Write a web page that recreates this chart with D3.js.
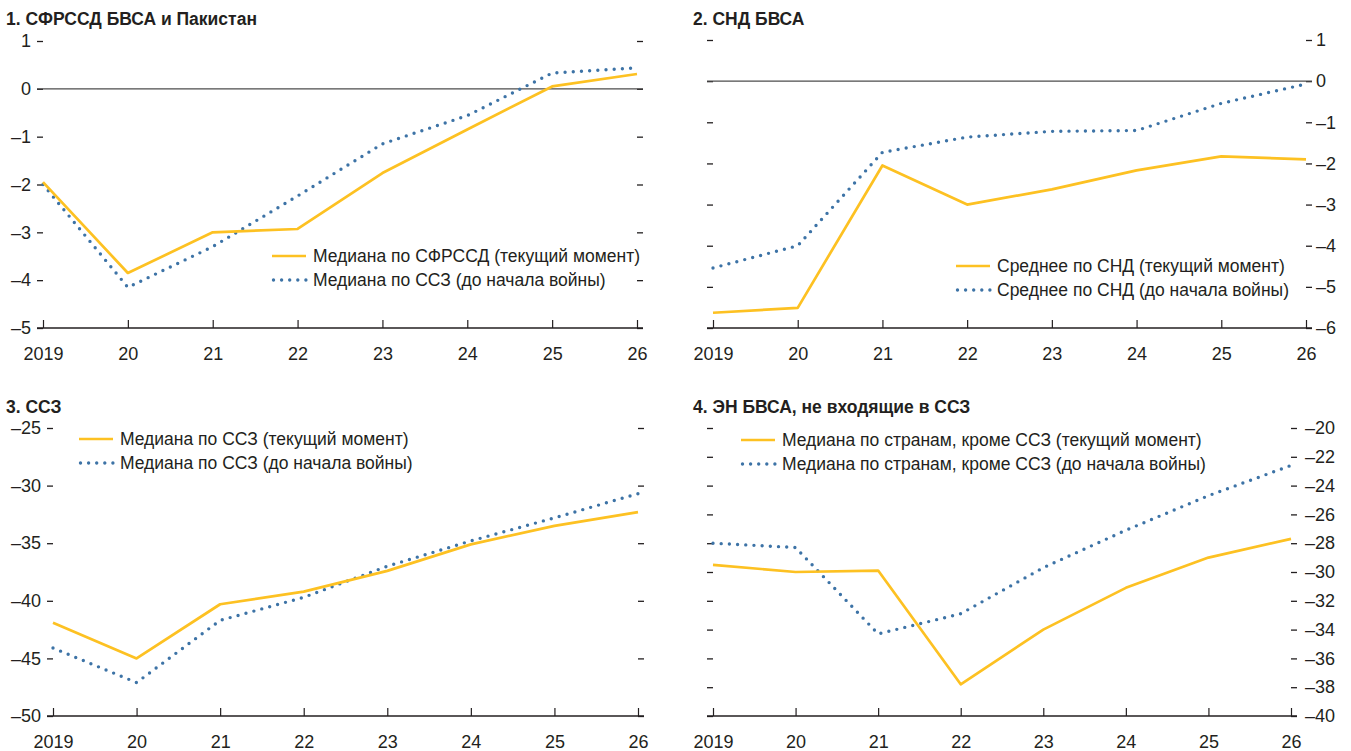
<!DOCTYPE html>
<html>
<head>
<meta charset="utf-8">
<script src="https://cdn.jsdelivr.net/npm/d3@7"></script>
<style>
  body { margin: 0; background: #fff; }
  svg { display: block; font-family: "Liberation Sans", Arial, sans-serif; }
</style>
</head>
<body>
<svg id="chart" width="1351" height="751"></svg>
<script>
// Shared x categories
const years = [2019, 2020, 2021, 2022, 2023, 2024, 2025, 2026];
const yearLabels = ['2019', '20', '21', '22', '23', '24', '25', '26'];

// 1. СФРССД БВСА и Пакистан
const p1Current = [-1.95, -3.85, -3.0, -2.93, -1.76, -0.85, 0.05, 0.31];
const p1PreWar = [-2.0, -4.15, -3.3, -2.24, -1.15, -0.56, 0.33, 0.44];
const p1Ticks = [1, 0, -1, -2, -3, -4, -5];

// 2. СНД БВСА
const p2Current = [-5.63, -5.51, -2.05, -3.0, -2.63, -2.17, -1.83, -1.9];
const p2PreWar = [-4.54, -4.0, -1.73, -1.36, -1.22, -1.2, -0.54, -0.07];
const p2Ticks = [1, 0, -1, -2, -3, -4, -5, -6];

// 3. ССЗ
const p3Current = [-41.9, -45.0, -40.3, -39.2, -37.4, -35.1, -33.5, -32.3];
const p3PreWar = [-44.1, -47.1, -41.7, -39.7, -37.0, -34.8, -32.8, -30.7];
const p3Ticks = [-25, -30, -35, -40, -45, -50];

// 4. ЭН БВСА, не входящие в ССЗ
const p4Current = [-29.5, -30.0, -29.9, -37.8, -34.0, -31.1, -29.0, -27.7];
const p4PreWar = [-28.0, -28.3, -34.3, -32.9, -29.7, -27.1, -24.7, -22.6];
const p4Ticks = [-20, -22, -24, -26, -28, -30, -32, -34, -36, -38, -40];

const YELLOW = '#FDC122';
const BLUE = '#3D73A6';
const INK = '#231f20';

const fmt = v => (v < 0 ? '\u2013' + Math.abs(v) : String(v));

const svg = d3.select('#chart');

function drawPanel(cfg) {
  const g = svg.append('g');

  const x = d3.scalePoint().domain(years).range([cfg.x0, cfg.x1]);
  const y = d3.scaleLinear().domain(cfg.domain).range([cfg.yBottom, cfg.yTop]);

  // Title
  g.append('text')
    .attr('x', cfg.titleX)
    .attr('y', cfg.titleY)
    .style('font-size', '17.5px')
    .style('font-weight', 'bold')
    .attr('fill', INK)
    .text(cfg.title);

  // Left y ticks
  const left = d3.axisLeft(y).tickValues(cfg.ticks).tickSize(6).tickPadding(6)
    .tickFormat(cfg.labelSide === 'left' ? fmt : () => '');
  const gl = g.append('g').attr('transform', `translate(${cfg.x0},0)`).call(left);

  // Right y ticks
  const right = d3.axisRight(y).tickValues(cfg.ticks).tickSize(6).tickPadding(cfg.rightPad || 4)
    .tickFormat(cfg.labelSide === 'right' ? fmt : () => '');
  const gr = g.append('g').attr('transform', `translate(${cfg.x1},0)`).call(right);

  [gl, gr].forEach(a => {
    a.select('.domain').remove();
    a.selectAll('.tick line').attr('stroke', INK).attr('stroke-width', 1.3);
    a.selectAll('.tick text').attr('fill', INK).style('font-size', '18px')
      .style('font-family', '"Liberation Sans", Arial, sans-serif');
  });

  // Zero line
  if (cfg.domain[0] < 0 && cfg.domain[1] > 0) {
    g.append('line')
      .attr('x1', cfg.x0 - 6).attr('x2', cfg.x1 + 6)
      .attr('y1', y(0)).attr('y2', y(0))
      .attr('stroke', '#4d4d4d').attr('stroke-width', 1.3);
  }

  // X axis (ticks pointing up)
  const bottom = d3.axisBottom(x).tickSize(-8).tickPadding(19)
    .tickFormat((d, i) => yearLabels[i]);
  const gx = g.append('g').attr('transform', `translate(0,${cfg.yBottom})`).call(bottom);
  gx.select('.domain').remove();
  gx.selectAll('.tick line').attr('stroke', INK).attr('stroke-width', 1.2);
  gx.selectAll('.tick text').attr('fill', INK).style('font-size', '18px')
    .style('font-family', '"Liberation Sans", Arial, sans-serif');
  g.append('line')
    .attr('x1', cfg.x0 - 6).attr('x2', cfg.x1 + 6)
    .attr('y1', cfg.yBottom).attr('y2', cfg.yBottom)
    .attr('stroke', INK).attr('stroke-width', 1.4);

  const line = d3.line().x((d, i) => x(years[i])).y(d => y(d));

  // Pre-war (dotted) series
  g.append('path')
    .datum(cfg.preWar)
    .attr('d', line)
    .attr('fill', 'none')
    .attr('stroke', BLUE)
    .attr('stroke-width', 3.4)
    .attr('stroke-linecap', 'round')
    .attr('stroke-dasharray', '0 8.2');

  // Current (solid) series
  g.append('path')
    .datum(cfg.current)
    .attr('d', line)
    .attr('fill', 'none')
    .attr('stroke', YELLOW)
    .attr('stroke-width', 2.7)
    .attr('stroke-linejoin', 'round');

  // Legend
  const lg = g.append('g').attr('transform', `translate(${cfg.legX},${cfg.legY})`);
  lg.append('line').attr('x1', 0).attr('x2', 34).attr('y1', 0).attr('y2', 0)
    .attr('stroke', YELLOW).attr('stroke-width', 2.7);
  lg.append('line').attr('x1', 1.5).attr('x2', 34).attr('y1', 24).attr('y2', 24)
    .attr('stroke', BLUE).attr('stroke-width', 3.4)
    .attr('stroke-linecap', 'round').attr('stroke-dasharray', '0 8.1');
  lg.selectAll('text')
    .data(cfg.legend)
    .enter().append('text')
    .attr('x', 41)
    .attr('y', (d, i) => i * 24)
    .attr('dy', '0.35em')
    .attr('fill', INK)
    .style('font-size', '17.5px')
    .text(d => d);
}

drawPanel({
  title: '1. СФРССД БВСА и Пакистан', titleX: 6, titleY: 25,
  x0: 43, x1: 637, yTop: 41, yBottom: 328, domain: [-5, 1], ticks: p1Ticks,
  labelSide: 'left', current: p1Current, preWar: p1PreWar,
  legX: 272, legY: 256,
  legend: ['Медиана по СФРССД (текущий момент)', 'Медиана по ССЗ (до начала войны)']
});

drawPanel({
  title: '2. СНД БВСА', titleX: 693, titleY: 25,
  x0: 713, x1: 1306, yTop: 40, yBottom: 328, domain: [-6, 1], ticks: p2Ticks,
  labelSide: 'right', current: p2Current, preWar: p2PreWar,
  legX: 956, legY: 266,
  legend: ['Среднее по СНД (текущий момент)', 'Среднее по СНД (до начала войны)']
});

drawPanel({
  title: '3. ССЗ', titleX: 6, titleY: 413,
  x0: 53, x1: 638, yTop: 428, yBottom: 716, domain: [-50, -25], ticks: p3Ticks,
  labelSide: 'left', current: p3Current, preWar: p3PreWar,
  legX: 79, legY: 439,
  legend: ['Медиана по ССЗ (текущий момент)', 'Медиана по ССЗ (до начала войны)']
});

drawPanel({
  title: '4. ЭН БВСА, не входящие в ССЗ', titleX: 693, titleY: 413,
  x0: 713, x1: 1291, yTop: 428, yBottom: 716, domain: [-40, -20], ticks: p4Ticks,
  labelSide: 'right', rightPad: 8, current: p4Current, preWar: p4PreWar,
  legX: 741, legY: 440,
  legend: ['Медиана по странам, кроме ССЗ (текущий момент)', 'Медиана по странам, кроме ССЗ (до начала войны)']
});
</script>
</body>
</html>
